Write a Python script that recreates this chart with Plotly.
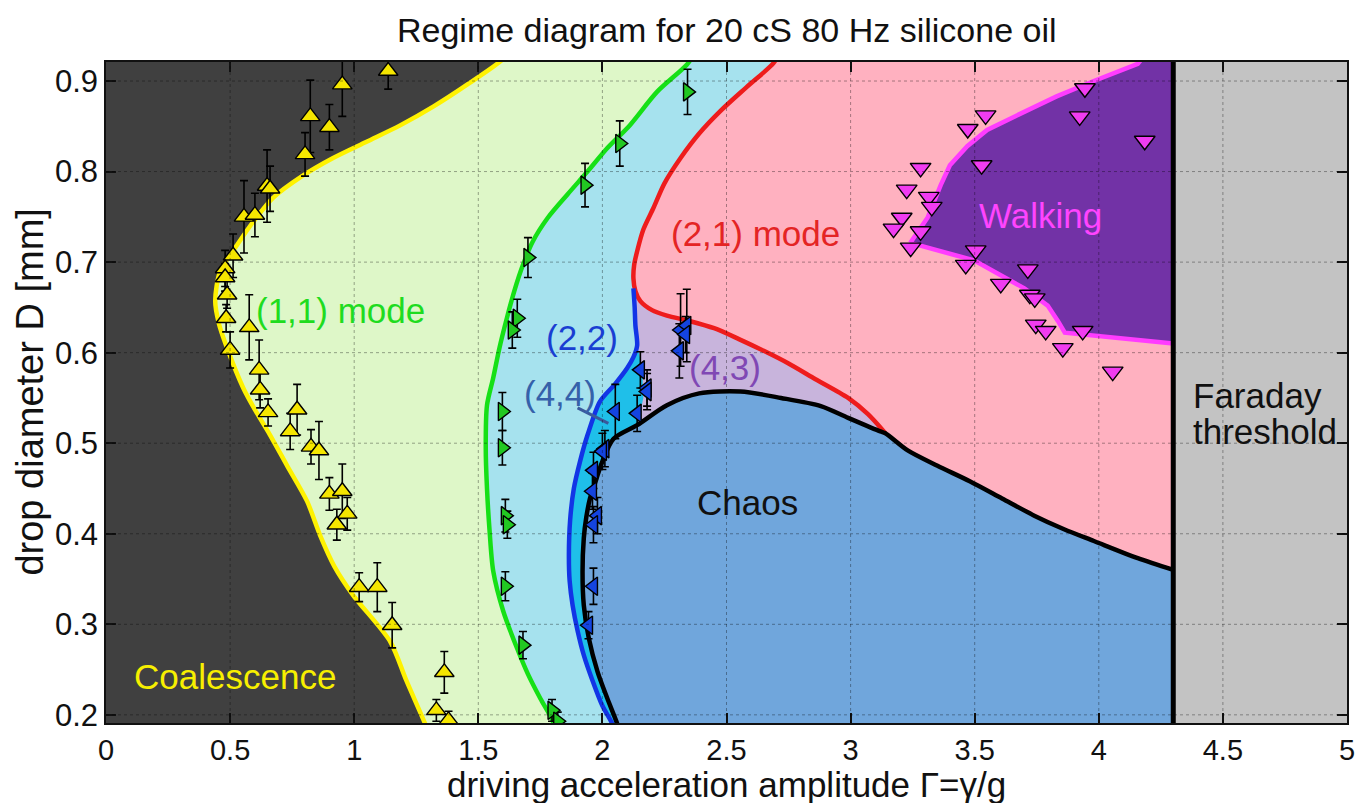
import plotly.graph_objects as go

FONT = "Liberation Sans, Arial, Helvetica, sans-serif"

# ---- axes ----
x_range = [0, 5]
y_range = [0.191, 0.921]
x_ticks = [0, 0.5, 1, 1.5, 2, 2.5, 3, 3.5, 4, 4.5, 5]
x_tick_labels = ["0", "0.5", "1", "1.5", "2", "2.5", "3", "3.5", "4", "4.5", "5"]
y_ticks = [0.2, 0.3, 0.4, 0.5, 0.6, 0.7, 0.8, 0.9]
y_tick_labels = ["0.2", "0.3", "0.4", "0.5", "0.6", "0.7", "0.8", "0.9"]

# Faraday threshold and the vertical extent used to close region polygons
faraday_gamma = 4.3
gamma_max = 5.1
d_lo, d_hi = 0.18, 0.93

# ---- regime boundaries ----
# coalescence / bouncing boundary, bottom to top
coal_x = [1.30, 1.286, 1.21, 1.145, 0.996, 0.92, 0.863, 0.81, 0.73, 0.661, 0.60, 0.553, 0.488, 0.455, 0.44, 0.46, 0.528, 0.60, 0.673, 0.79, 0.915, 1.05, 1.185, 1.32, 1.455, 1.59, 1.615]
coal_y = [0.18, 0.19, 0.238, 0.281, 0.332, 0.364, 0.398, 0.436, 0.475, 0.509, 0.537, 0.561, 0.605, 0.632, 0.657, 0.69, 0.719, 0.747, 0.771, 0.795, 0.815, 0.833, 0.851, 0.872, 0.896, 0.922, 0.93]

# (1,1) -> (2,2) boundary, top to bottom
m11_x = [2.37, 2.34, 2.22, 2.11, 2.02, 1.94, 1.86, 1.78, 1.72, 1.68, 1.645, 1.615, 1.585, 1.56, 1.535, 1.53, 1.535, 1.545, 1.56, 1.60, 1.657, 1.70, 1.75, 1.80, 1.81]
m11_y = [0.93, 0.918, 0.888, 0.851, 0.826, 0.80, 0.775, 0.749, 0.723, 0.697, 0.668, 0.638, 0.605, 0.572, 0.542, 0.495, 0.45, 0.405, 0.359, 0.315, 0.273, 0.245, 0.218, 0.193, 0.18]

# (2,1) mode boundary, top to the point where it meets the chaos curve
m21_x = [2.71, 2.69, 2.58, 2.476, 2.39, 2.315, 2.25, 2.206, 2.165, 2.14, 2.128, 2.125, 2.133, 2.153, 2.20, 2.26, 2.35, 2.45, 2.55, 2.65, 2.75, 2.85, 2.99, 3.07, 3.14]
m21_y = [0.93, 0.92, 0.893, 0.867, 0.842, 0.815, 0.787, 0.76, 0.736, 0.712, 0.697, 0.682, 0.668, 0.657, 0.647, 0.641, 0.635, 0.627, 0.615, 0.602, 0.588, 0.572, 0.55, 0.532, 0.511]

# (2,2) -> (4,4)/(4,3) boundary, top to bottom
m22_x = [2.125, 2.13, 2.133, 2.14, 2.125, 2.10, 2.05, 1.99, 1.94, 1.91, 1.885, 1.87, 1.865, 1.868, 1.88, 1.90, 1.925, 1.96, 2.0, 2.04, 2.05]
m22_y = [0.671, 0.65, 0.63, 0.608, 0.595, 0.583, 0.565, 0.546, 0.509, 0.48, 0.45, 0.415, 0.376, 0.348, 0.321, 0.293, 0.266, 0.238, 0.21, 0.19, 0.18]

# right edge of the (4,4) band, from the (2,2) curve down to the chaos curve
m44_edge_x = [2.16, 2.165]
m44_edge_y = [0.585, 0.55]

# chaos boundary, bottom to the Faraday threshold
chaos_x = [2.07, 2.06, 2.02, 1.98, 1.945, 1.925, 1.92, 1.925, 1.935, 1.95, 1.975, 2.0, 2.045, 2.14, 2.26, 2.39, 2.556, 2.72, 2.88, 2.99, 3.12, 3.14, 3.23, 3.35, 3.48, 3.61, 3.74, 3.86, 3.98, 4.157, 4.3]
chaos_y = [0.18, 0.19, 0.218, 0.248, 0.285, 0.321, 0.358, 0.395, 0.418, 0.439, 0.46, 0.48, 0.505, 0.52, 0.542, 0.555, 0.557, 0.55, 0.541, 0.528, 0.513, 0.511, 0.492, 0.475, 0.458, 0.439, 0.42, 0.405, 0.392, 0.373, 0.36]

# walking region, upper edge (left to right) and lower edge (left to right)
walk_up_x = [3.24, 3.31, 3.363, 3.40, 3.47, 3.55, 3.67, 3.83, 3.98, 4.157, 4.19]
walk_up_y = [0.721, 0.749, 0.785, 0.807, 0.828, 0.846, 0.862, 0.883, 0.90, 0.919, 0.93]
walk_lo_x = [3.24, 3.27, 3.497, 3.605, 3.70, 3.794, 3.835, 3.863, 3.98, 4.3]
walk_lo_y = [0.721, 0.719, 0.702, 0.686, 0.671, 0.652, 0.635, 0.622, 0.618, 0.61]

# ---- measured thresholds ----
coal_pts_x = [1.137, 0.952, 0.823, 0.900, 0.802, 0.649, 0.661, 0.556, 0.600, 0.512, 0.480, 0.480, 0.488, 0.484, 0.500,
              0.577, 0.617, 0.621, 0.653, 0.770, 0.742, 0.826, 0.858, 0.900, 0.952, 0.972, 0.930, 1.020, 1.093, 1.153,
              1.363, 1.331, 1.380]
coal_pts_y = [0.911, 0.896, 0.861, 0.849, 0.819, 0.784, 0.781, 0.750, 0.752, 0.707, 0.693, 0.683, 0.664, 0.638, 0.603,
              0.628, 0.581, 0.559, 0.534, 0.537, 0.513, 0.496, 0.492, 0.444, 0.447, 0.422, 0.410, 0.341, 0.341, 0.299,
              0.247, 0.205, 0.194]
coal_pts_err = [0.02, 0.035, 0.04, 0.025, 0.024, 0.04, 0.025, 0.04, 0.024, 0.024, 0.02, 0.015, 0.015, 0.015, 0.02,
                0.036, 0.033, 0.02, 0.015, 0.028, 0.02, 0.019, 0.032, 0.018, 0.03, 0.018, 0.017, 0.016, 0.027, 0.025,
                0.023, 0.012, 0.01]

m11_pts_x = [2.343, 2.070, 1.930, 1.700, 1.657, 1.637, 1.597, 1.597, 1.609, 1.617, 1.609, 1.680, 1.797, 1.820]
m11_pts_y = [0.888, 0.831, 0.785, 0.705, 0.638, 0.625, 0.535, 0.495, 0.420, 0.410, 0.342, 0.277, 0.205, 0.193]
m11_pts_err = [0.025, 0.025, 0.024, 0.022, 0.021, 0.02, 0.021, 0.019, 0.018, 0.015, 0.016, 0.015, 0.012, 0.01]

m22_pts_x = [2.315, 2.340, 2.335, 2.310, 2.153, 2.180, 2.180, 2.140, 2.052, 2.010, 2.000, 1.964, 1.960, 1.980, 1.964, 1.964, 1.944]
m22_pts_y = [0.625, 0.630, 0.620, 0.602, 0.581, 0.561, 0.557, 0.533, 0.535, 0.494, 0.491, 0.470, 0.447, 0.420, 0.410, 0.342, 0.299]
m22_pts_err = [0.04, 0.04, 0.02, 0.03, 0.02, 0.02, 0.02, 0.02, 0.03, 0.02, 0.02, 0.02, 0.02, 0.02, 0.02, 0.02, 0.015]

walk_pts_x = [3.944, 3.544, 3.923, 3.472, 4.185, 3.282, 3.528, 3.226, 3.315, 3.327, 3.206, 3.173, 3.282,
              3.242, 3.504, 3.464, 3.714, 3.605, 3.722, 3.742, 3.746, 3.786, 3.935, 3.855, 4.056]
walk_pts_y = [0.892, 0.862, 0.861, 0.847, 0.834, 0.804, 0.807, 0.780, 0.772, 0.761, 0.749, 0.737, 0.734,
              0.716, 0.713, 0.697, 0.692, 0.676, 0.664, 0.660, 0.631, 0.624, 0.624, 0.605, 0.579]

# ---- colours ----
C_BG = "#404040"
C_M11 = "#def7c8"
C_M22 = "#a6e2ee"
C_M43 = "#c8b4dc"
C_M44 = "#1fbfe9"
C_M21 = "#ffb1c0"
C_CHAOS = "#70a6dc"
C_WALK = "#7232a6"
C_FARADAY = "#c3c3c3"

fig = go.Figure()


def region(xs, ys, color, line=None):
    fig.add_trace(go.Scatter(
        x=xs, y=ys, mode="lines", fill="toself", fillcolor=color,
        line=line or dict(width=0, color=color), hoverinfo="skip", showlegend=False))


def curve(xs, ys, color, width=4.5, shape="spline"):
    fig.add_trace(go.Scatter(
        x=xs, y=ys, mode="lines", line=dict(color=color, width=width, shape=shape, smoothing=0.8),
        hoverinfo="skip", showlegend=False))


F = faraday_gamma

# filled regimes, back to front
region(coal_x + [F, F], coal_y + [d_hi, d_lo], C_M11)
region(m11_x + [F, F], m11_y + [d_lo, d_hi], C_M22)
region(m22_x + [F, F], m22_y + [d_lo, m22_y[0]], C_M43)

k = chaos_x.index(2.14)
cyan_x = m22_x[3:][::-1] + m44_edge_x + chaos_x[:k + 1][::-1]
cyan_y = m22_y[3:][::-1] + m44_edge_y + chaos_y[:k + 1][::-1]
region(cyan_x, cyan_y, C_M44)

j = chaos_x.index(m21_x[-1])
region(m21_x + chaos_x[j + 1:] + [F], m21_y + chaos_y[j + 1:] + [d_hi], C_M21)
region(chaos_x + [F], chaos_y + [d_lo], C_CHAOS)
region(walk_up_x + [F] + walk_lo_x[::-1], walk_up_y + [d_hi] + walk_lo_y[::-1], C_WALK,
       line=dict(color="#ff3cff", width=4.5))
region([F, gamma_max, gamma_max, F], [d_lo, d_lo, d_hi, d_hi], C_FARADAY)

# boundary curves
curve(coal_x, coal_y, "#fff200")
curve(m11_x, m11_y, "#16e016")
curve(m21_x, m21_y, "#ee1c1c")
curve(m22_x, m22_y, "#1234e6")
curve(chaos_x, chaos_y, "#000000")
curve([F, F], [d_lo, d_hi], "#000000", width=5, shape="linear")

# pointer from the (4,4) label to its band
curve([1.90, 2.024], [0.539, 0.522], "#3a5a9c", width=3, shape="linear")


def points(xs, ys, symbol, color, size, err=None):
    kw = {}
    if err is not None:
        kw["error_y"] = dict(type="data", array=err, visible=True, color="#000000", thickness=1.6, width=4)
    fig.add_trace(go.Scatter(
        x=xs, y=ys, mode="markers",
        marker=dict(symbol=symbol, color=color, size=size, line=dict(color="#000000", width=1.4)),
        cliponaxis=True, hoverinfo="skip", showlegend=False, **kw))


points(coal_pts_x, coal_pts_y, "triangle-up", "#f5e600", 17, coal_pts_err)
points(m11_pts_x, m11_pts_y, "triangle-right", "#22c822", 16, m11_pts_err)
points(m22_pts_x, m22_pts_y, "triangle-left", "#1444e0", 16, m22_pts_err)
points(walk_pts_x, walk_pts_y, "triangle-down", "#f03cf0", 18)

# grid drawn over the filled regions
shapes = []
for xv in x_ticks[1:-1]:
    shapes.append(dict(type="line", xref="x", yref="paper", x0=xv, x1=xv, y0=0, y1=1, layer="above",
                       line=dict(color="rgba(0,0,0,0.35)", width=1, dash="dot")))
for yv in y_ticks:
    shapes.append(dict(type="line", xref="paper", yref="y", x0=0, x1=1, y0=yv, y1=yv, layer="above",
                       line=dict(color="rgba(0,0,0,0.35)", width=1, dash="dot")))

LBL = 35
annotations = [
    dict(x=0.52, y=0.242, text="Coalescence", color="#f7ef00"),
    dict(x=0.944, y=0.647, text="(1,1) mode", color="#1fdc1f"),
    dict(x=2.617, y=0.732, text="(2,1) mode", color="#e42424"),
    dict(x=1.919, y=0.617, text="(2,2)", color="#1a3ed2"),
    dict(x=1.831, y=0.555, text="(4,4)", color="#3561aa"),
    dict(x=2.492, y=0.584, text="(4,3)", color="#8048b4"),
    dict(x=2.585, y=0.435, text="Chaos", color="#111111"),
    dict(x=3.766, y=0.752, text="Walking", color="#ff44ff"),
]
ann = []
for a in annotations:
    ann.append(dict(x=a["x"], y=a["y"], xref="x", yref="y", text=a["text"], showarrow=False,
                    xanchor="center", yanchor="middle", font=dict(family=FONT, size=LBL, color=a["color"])))
ann.append(dict(x=4.37, y=0.553, xref="x", yref="y", text="Faraday", showarrow=False,
                xanchor="left", yanchor="middle", font=dict(family=FONT, size=LBL, color="#111111")))
ann.append(dict(x=4.37, y=0.513, xref="x", yref="y", text="threshold", showarrow=False,
                xanchor="left", yanchor="middle", font=dict(family=FONT, size=LBL, color="#111111")))

# titles
ann.append(dict(x=0.5, y=1.048, xref="paper", yref="paper", text="Regime diagram for 20 cS 80 Hz silicone oil",
                showarrow=False, xanchor="center", yanchor="middle", font=dict(family=FONT, size=34, color="#111111")))
ann.append(dict(x=0.5, y=-0.0923, xref="paper", yref="paper", text="driving acceleration amplitude Γ=γ/g",
                showarrow=False, xanchor="center", yanchor="middle", font=dict(family=FONT, size=35, color="#111111")))
ann.append(dict(x=-0.062, y=0.5, xref="paper", yref="paper", text="drop diameter D [mm]", textangle=-90,
                showarrow=False, xanchor="center", yanchor="middle", font=dict(family=FONT, size=38, color="#111111")))

axis_common = dict(
    showline=True, linecolor="#111111", linewidth=1.5, mirror="ticks",
    ticks="inside", ticklen=10, tickwidth=1.5, tickcolor="#111111",
    showgrid=False, zeroline=False, layer="above traces", automargin=False,
)

fig.update_layout(
    width=1361, height=803,
    margin=dict(l=106, r=14, t=62, b=80),
    paper_bgcolor="#ffffff", plot_bgcolor=C_BG,
    showlegend=False,
    xaxis=dict(range=x_range, tickvals=x_ticks, ticktext=x_tick_labels,
               tickfont=dict(family=FONT, size=29, color="#111111"), **axis_common),
    yaxis=dict(range=y_range, tickvals=y_ticks, ticktext=y_tick_labels,
               tickfont=dict(family=FONT, size=31, color="#111111"), **axis_common),
    shapes=shapes,
    annotations=ann,
)

fig.write_html("out.html")
